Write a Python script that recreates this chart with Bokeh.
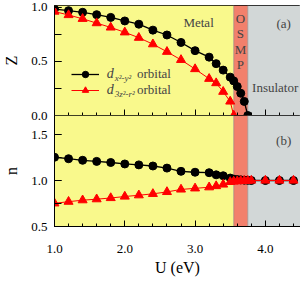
from bokeh.plotting import figure
from bokeh.layouts import column
from bokeh.models import (Range1d, BoxAnnotation, Span, Label, Legend, LegendItem,
                          SingleIntervalTicker, NumeralTickFormatter, CustomJSTickFormatter)
from bokeh.embed import file_html
from bokeh.resources import INLINE

# ---------------- data ----------------
U_dx_Z = [1.0, 1.2, 1.4, 1.6, 1.8, 2.0, 2.2, 2.4, 2.6, 2.8, 3.0, 3.2, 3.3, 3.4, 3.5,
          3.55, 3.6, 3.65, 3.7, 3.75]
Z_dx = [0.985, 0.97, 0.955, 0.933, 0.908, 0.875, 0.845, 0.79, 0.745, 0.676, 0.60,
        0.54, 0.48, 0.42, 0.355, 0.32, 0.268, 0.206, 0.13, 0.0]

U_dz_Z = [1.0, 1.2, 1.4, 1.6, 1.8, 2.0, 2.2, 2.4, 2.6, 2.8, 3.0, 3.2, 3.3, 3.4, 3.5, 3.55]
Z_dz = [0.962, 0.93, 0.895, 0.855, 0.815, 0.77, 0.72, 0.66, 0.59, 0.515, 0.43, 0.34,
        0.30, 0.22, 0.13, 0.0]

U_n = [1.0, 1.2, 1.4, 1.6, 1.8, 2.0, 2.2, 2.4, 2.6, 2.8, 3.0, 3.2, 3.3, 3.4, 3.5,
       3.55, 3.6, 3.65, 3.7, 3.75, 3.8, 4.0, 4.2, 4.4]
n_dx = [1.253, 1.237, 1.22, 1.208, 1.196, 1.18, 1.17, 1.158, 1.135, 1.10, 1.09, 1.085,
        1.062, 1.052, 1.027, 1.015, 1.01, 1.007, 1.004, 1.002, 1.0, 1.0, 1.0, 1.0]
n_dz = [0.752, 0.77, 0.786, 0.797, 0.81, 0.826, 0.84, 0.855, 0.876, 0.903, 0.915, 0.927,
        0.94, 0.957, 0.985, 0.99, 0.993, 0.995, 0.997, 0.998, 1.0, 1.0, 1.0, 1.0]

phase_edges = [1.0, 3.55, 3.75, 4.5]
phase_colors = ["#F9F98C", "#F2806C", "#D2D7D7"]
phase_names = ["Metal", "OSMP", "Insulator"]
orbital_subs = ["x²-y²", "3z²-r²"]

FONT = "Liberation Serif"
X_RANGE = (1.0, 4.5)


def style(p):
    p.grid.visible = False
    p.outline_line_color = "black"
    p.outline_line_width = 1
    p.min_border_left = 51
    p.min_border_right = 0
    p.min_border_top = 0
    for ax in p.axis:
        ax.major_tick_out = 0
        ax.minor_tick_out = 0
        ax.axis_line_color = "black"
        ax.major_tick_line_color = "black"
        ax.minor_tick_line_color = "black"
        ax.major_label_text_font = FONT
        ax.major_label_text_font_size = "13px"
        ax.major_label_text_color = "black"
        ax.axis_label_text_font = FONT
        ax.axis_label_text_font_size = "16px"
        ax.axis_label_text_font_style = "normal"
        ax.axis_label_text_color = "black"
    p.yaxis.major_tick_in = 7
    p.yaxis.minor_tick_in = 7
    p.yaxis.major_label_standoff = 7
    p.yaxis.axis_label_standoff = 8
    p.yaxis.formatter = NumeralTickFormatter(format="0.0")
    p.yaxis.ticker = SingleIntervalTicker(interval=0.5, num_minor_ticks=2)
    p.xaxis.major_tick_in = 6
    p.xaxis.minor_tick_in = 3
    p.xaxis.ticker = SingleIntervalTicker(interval=1.0, num_minor_ticks=5)
    p.xaxis.formatter = NumeralTickFormatter(format="0.0")
    for i in range(3):
        p.add_layout(BoxAnnotation(left=phase_edges[i], right=phase_edges[i + 1],
                                   fill_color=phase_colors[i], fill_alpha=1.0,
                                   line_color=None, level="underlay"))
    for e in phase_edges[1:3]:
        p.add_layout(Span(location=e, dimension="height", line_color="#777777",
                          line_dash="1 1", line_width=1, level="underlay"))


# ---------------- panel (a) ----------------
pa = figure(frame_width=246, frame_height=110, x_range=Range1d(*X_RANGE),
            y_range=Range1d(0, 1.018), output_backend="svg", toolbar_location=None)
style(pa)
pa.min_border_top = 5
pa.min_border_bottom = 8
pa.xaxis.formatter = CustomJSTickFormatter(code="return ''")
pa.xaxis.major_label_standoff = 0
pa.yaxis.axis_label = "Z"

la = pa.line(U_dx_Z, Z_dx, line_color="black", line_width=1.3)
sa = pa.scatter(U_dx_Z, Z_dx, marker="circle", size=8, color="black")
lb = pa.line(U_dz_Z, Z_dz, line_color="red", line_width=1)
sb = pa.scatter(U_dz_Z, Z_dz, marker="triangle", size=9, color="red")

legend = Legend(items=[LegendItem(label="orbital", renderers=[la, sa]),
                       LegendItem(label="orbital", renderers=[lb, sb])],
                location=(17, 17), glyph_width=28, glyph_height=16, label_width=30,
                label_height=16, padding=0, margin=0, spacing=0,
                border_line_color=None, background_fill_alpha=0,
                label_text_font=FONT, label_text_font_size="13px",
                label_standoff=38)
pa.add_layout(legend)

row_y = [0.386, 0.238]
for yy, sub in zip(row_y, orbital_subs):
    pa.add_layout(Label(x=1.745, y=yy, text="d", text_font=FONT, text_font_size="14px",
                        text_font_style="italic", text_baseline="middle"))
    pa.add_layout(Label(x=1.858, y=yy - 0.04, text=sub, text_font=FONT,
                        text_font_size="9px", text_font_style="italic",
                        text_baseline="middle"))

pa.add_layout(Label(x=3.05, y=0.86, text=phase_names[0], text_font=FONT,
                    text_font_size="13px", text_align="center", text_baseline="middle"))
pa.add_layout(Label(x=4.14, y=0.262, text=phase_names[2], text_font=FONT,
                    text_font_size="13px", text_align="center", text_baseline="middle"))
pa.add_layout(Label(x=4.26, y=0.85, text="(a)", text_font=FONT,
                    text_font_size="13px", text_align="center", text_baseline="middle"))
for ch, yy in zip(phase_names[1], [0.894, 0.756, 0.614, 0.469]):
    pa.add_layout(Label(x=3.645, y=yy, text=ch, text_font=FONT, text_font_size="13px",
                        text_align="center", text_baseline="middle"))

# ---------------- panel (b) ----------------
pb = figure(frame_width=246, frame_height=111, x_range=pa.x_range,
            y_range=Range1d(0.5, 1.707), output_backend="svg", toolbar_location=None)
style(pb)
pb.border_fill_alpha = 0
pb.xaxis.major_label_standoff = 18
pb.xaxis.axis_label_standoff = 3
pb.xaxis.axis_label = "U (eV)"
pb.yaxis.axis_label = "n"
pb.styles = {"margin-top": "-8px"}

pb.line(U_n, n_dx, line_color="black", line_width=1.3)
pb.scatter(U_n, n_dx, marker="circle", size=8, color="black")
pb.line(U_n, n_dz, line_color="red", line_width=1)
pb.scatter(U_n, n_dz, marker="triangle", size=9, color="red")
pb.add_layout(Label(x=4.26, y=1.44, text="(b)", text_font=FONT,
                    text_font_size="13px", text_align="center", text_baseline="middle"))

layout = column(pa, pb, spacing=0)
open("out.html", "w").write(file_html(layout, INLINE))
